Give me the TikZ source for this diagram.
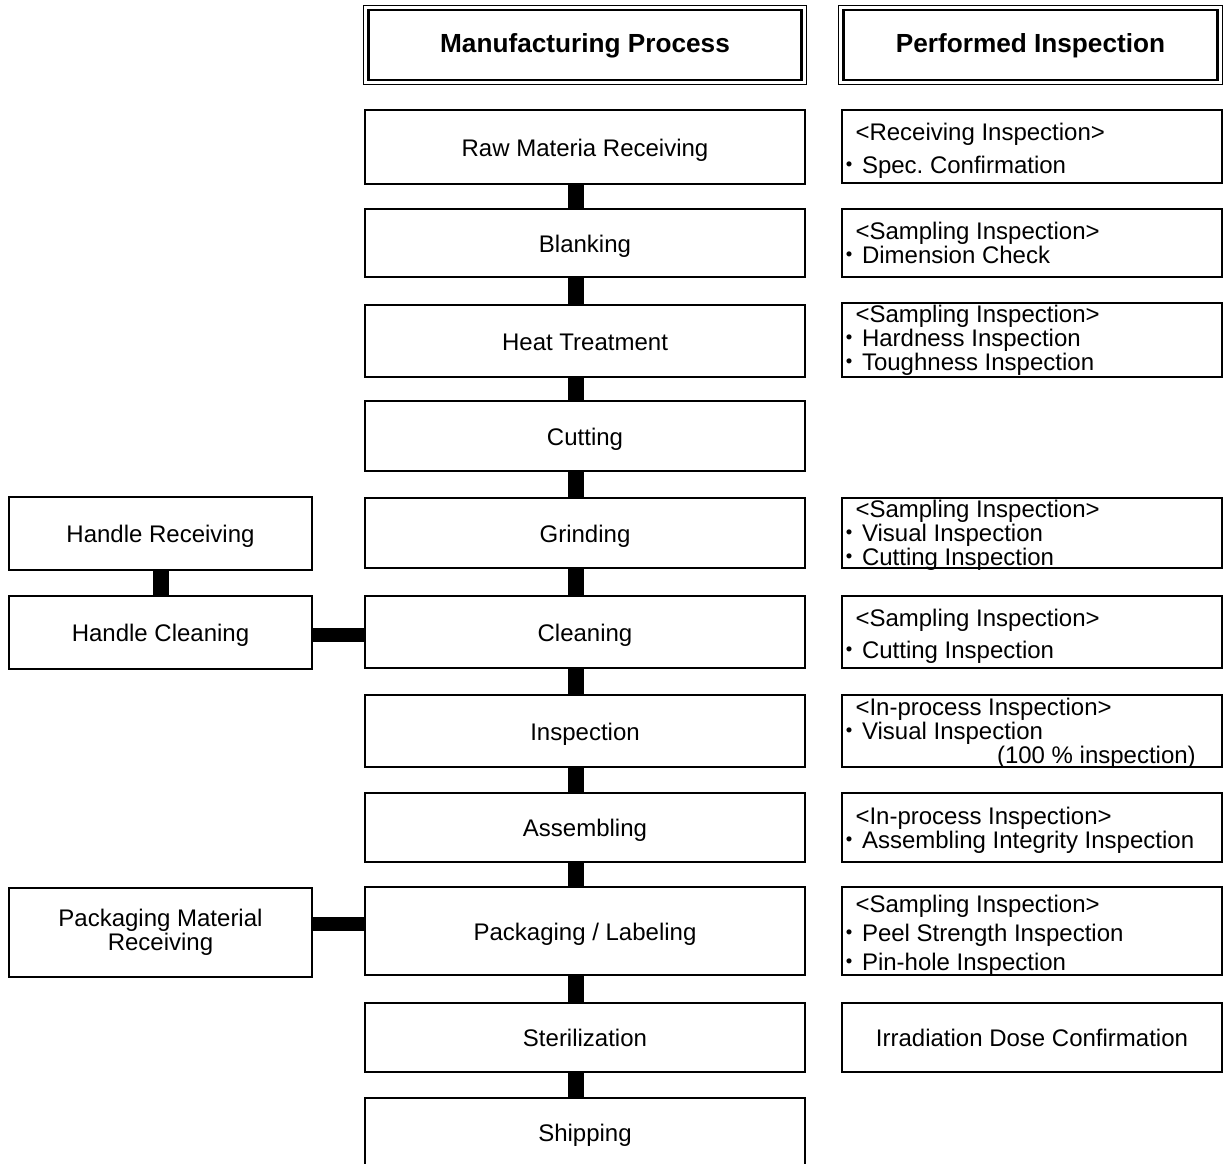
\documentclass[tikz,border=0pt]{standalone}
\usepackage{fontspec}
\setmainfont{Liberation Sans}
\newfontfamily\cjk{Noto Sans CJK JP}
\frenchspacing
\newcommand\mybul{\makebox[19pt][l]{\hspace*{-6pt}{\cjk ・}}}
\newcommand\myind{\hspace*{12.5pt}}
\tikzset{
  box/.style={draw, line width=2pt, inner sep=0pt, outer sep=0pt, align=center,
    font=\fontsize{24}{24}\selectfont},
  one/.style={text height=20.5pt, text depth=2.5pt},
  cbox/.style={box, one, minimum width=440pt},
  lbox/.style={box, minimum width=303pt},
  rbox/.style={box, minimum width=380pt},
  rtext/.style={anchor=west, inner xsep=1pt, inner ysep=0pt, outer sep=0pt, align=left,
    font=\fontsize{24}{24}\selectfont},
  hdr/.style={draw, line width=1.5pt, inner sep=0pt, outer sep=0pt, minimum height=79pt,
    text height=19pt, text depth=4pt, font=\fontsize{26.2}{26}\selectfont\bfseries},
  hdrin/.style={line width=2.2pt},
  conn/.style={line width=16pt, black},
  hconn/.style={line width=14pt, black}
}
\begin{document}
\begin{tikzpicture}[x=1pt, y=-1pt]
\useasboundingbox[fill=white] (0,0) rectangle (1223,1164);

% headers
\node[hdr, minimum width=443pt] (h1) at (585,45) {Manufacturing Process};
\node[hdr, minimum width=384pt] (h2) at (1030.5,45) {Performed Inspection};
\draw[hdrin] ([xshift=5pt,yshift=-4.5pt]h1.north west) rectangle ([xshift=-5pt,yshift=4.5pt]h1.south east);
\draw[hdrin] ([xshift=5pt,yshift=-4.5pt]h2.north west) rectangle ([xshift=-5pt,yshift=4.5pt]h2.south east);

% manufacturing process column
\node[cbox, minimum height=74pt] (raw)   at (585,147)    {Raw Materia Receiving};
\node[cbox, minimum height=68pt] (blank) at (585,243)    {Blanking};
\node[cbox, minimum height=72pt] (heat)  at (585,341)    {Heat Treatment};
\node[cbox, minimum height=70pt] (cut)   at (585,436)    {Cutting};
\node[cbox, minimum height=70pt] (grind) at (585,533)    {Grinding};
\node[cbox, minimum height=72pt] (clean) at (585,632)    {Cleaning};
\node[cbox, minimum height=72pt] (insp)  at (585,731)    {Inspection};
\node[cbox, minimum height=69pt] (asm)   at (585,827.5)  {Assembling};
\node[cbox, minimum height=88pt] (pack)  at (585,931)    {Packaging / Labeling};
\node[cbox, minimum height=69pt] (ster)  at (585,1037.5) {Sterilization};
\node[cbox, minimum height=68pt] (ship)  at (585,1132)   {Shipping};

% left column
\node[lbox, one, minimum height=73pt] (lrecv)  at (160.5,533.5) {Handle Receiving};
\node[lbox, one, minimum height=73pt] (lclean) at (160.5,632.5) {Handle Cleaning};
\node[lbox, minimum height=89pt] (lpack)  at (160.5,932.5) {Packaging Material\\Receiving};

% inspection column: boxes
\node[rbox, minimum height=73pt] (r1) at (1032,146.5) {};
\node[rbox, minimum height=68pt] (r2) at (1032,243) {};
\node[rbox, minimum height=74pt] (r3) at (1032,340) {};
\node[rbox, minimum height=70pt] (r5) at (1032,533) {};
\node[rbox, minimum height=72pt] (r6) at (1032,632) {};
\node[rbox, minimum height=72pt] (r7) at (1032,731) {};
\node[rbox, minimum height=69pt] (r8) at (1032,827.5) {};
\node[rbox, minimum height=88pt] (r9) at (1032,931) {};
\node[rbox, one, minimum height=69pt] (r10) at (1032,1037.5) {Irradiation Dose Confirmation};

% inspection column: texts
\node[rtext] (t1) at ([yshift=-4pt]r1.west)
  {\myind<Receiving Inspection>\\[9pt]\mybul Spec. Confirmation};
\node[rtext] (t2) at (r2.west)
  {\myind<Sampling Inspection>\\\mybul Dimension Check};
\node[rtext] (t3) at (r3.west)
  {\myind<Sampling Inspection>\\\mybul Hardness Inspection\\\mybul Toughness Inspection};
\node[rtext] (t5) at ([yshift=-2pt]r5.west)
  {\myind<Sampling Inspection>\\\mybul Visual Inspection\\\mybul Cutting Inspection};
\node[rtext] (t6) at ([yshift=-4pt]r6.west)
  {\myind<Sampling Inspection>\\[8pt]\mybul Cutting Inspection};
\node[rtext] (t7) at ([yshift=-2pt]r7.west)
  {\myind<In-process Inspection>\\\mybul Visual Inspection\\\hspace*{154pt}(100 \% inspection)};
\node[rtext] (t8) at ([yshift=-3pt]r8.west)
  {\myind<In-process Inspection>\\\mybul Assembling Integrity Inspection};
\node[rtext] (t9) at ([yshift=-4pt]r9.west)
  {\myind<Sampling Inspection>\\[5pt]\mybul Peel Strength Inspection\\[5pt]\mybul Pin-hole Inspection};

% connectors
\foreach \a/\b in {raw/blank, blank/heat, heat/cut, cut/grind, grind/clean,
                   clean/insp, insp/asm, asm/pack, pack/ster, ster/ship}
  \draw[conn] ([xshift=-9pt]\a.south) -- ([xshift=-9pt]\b.north);
\draw[conn] (lrecv.south) -- (lclean.north);
\draw[hconn] ([yshift=-2.5pt]lclean.east) -- ([yshift=-2.5pt]lclean.east -| clean.west);
\draw[hconn] ([yshift=8.5pt]lpack.east) -- ([yshift=8.5pt]lpack.east -| pack.west);
\end{tikzpicture}
\end{document}
